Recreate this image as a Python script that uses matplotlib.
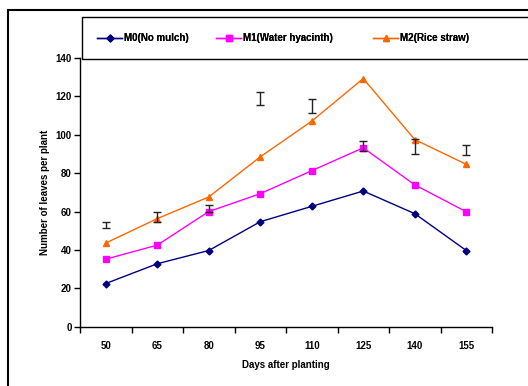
import numpy as np
import matplotlib.pyplot as plt
from matplotlib.patches import Rectangle

plt.rcParams['font.family'] = ['Liberation Sans', 'DejaVu Sans']
plt.rcParams['font.weight'] = 'bold'

days = ["50", "65", "80", "95", "110", "125", "140", "155"]
m0 = [22.5, 32.8, 39.7, 54.7, 62.7, 70.7, 58.9, 39.7]
m1 = [35.2, 42.5, 60.0, 69.3, 81.3, 93.2, 73.9, 59.9]
m2 = [43.6, 56.3, 67.6, 88.5, 107.1, 129.3, 97.5, 84.6]
err_center = [52.9, 57.2, 61.7, 118.8, 115.1, 94.2, 94.0, 92.1]
err_half = [1.4, 2.7, 1.9, 3.5, 3.7, 2.8, 3.8, 2.8]

fig = plt.figure(figsize=(5.28, 3.86), dpi=100)
ax = fig.add_axes([80/528, 1-326.7/386, 412/528, (326.7-58)/386])

x = np.arange(len(days))
l0, = ax.plot(x, m0, color="#000080", marker="D", ms=3.5, lw=1, label="M0(No mulch)")
l1, = ax.plot(x, m1, color="#FF00FF", marker="s", ms=4, lw=1, label="M1(Water hyacinth)")
l2, = ax.plot(x, m2, color="#FF6600", marker="^", ms=5, lw=1, label="M2(Rice straw)")
ax.errorbar(x, err_center, yerr=err_half, fmt="none", ecolor="#222222",
            elinewidth=1, capsize=3, capthick=1)

ax.set_xlim(-0.5, 7.5)
ax.set_ylim(0, 140)
ax.set_yticks(np.arange(0, 141, 20))
ax.set_xticks(x)
ax.set_xticklabels(days)
ax.set_xticks(np.arange(-0.5, 7.6, 1), minor=True)
ax.tick_params(axis="x", which="major", length=0, pad=10, labelsize=7)
ax.tick_params(axis="x", which="minor", length=4, width=1, direction="out")
ax.tick_params(axis="y", length=4, width=1, direction="out", labelsize=7, pad=2)
for s in ["top", "right"]:
    ax.spines[s].set_visible(False)
for s in ["left", "bottom"]:
    ax.spines[s].set_linewidth(1)
ax.set_xlabel("Days after planting", fontsize=7, fontweight="bold", labelpad=7)
ax.set_ylabel("Number of leaves per plant", fontsize=7, fontweight="bold", labelpad=4)

# outer chart frame and legend box (both run past the right edge)
fig.patches.append(Rectangle((8/528, -0.1), 1.2, 1.1 - 10/386,
                             transform=fig.transFigure, fill=False,
                             edgecolor="black", lw=1.5))
fig.patches.append(Rectangle((82/528, 1-59/386), 1.0, 42/386,
                             transform=fig.transFigure, fill=False,
                             edgecolor="black", lw=1))
for line, xpix in [(l0, 92), (l1, 211), (l2, 368)]:
    leg = fig.legend(handles=[line], loc="center left", frameon=False,
                     bbox_to_anchor=(xpix/528, 1-38/386), fontsize=7,
                     borderpad=0, handlelength=2.6, handletextpad=0.2)
    fig.add_artist(leg)

fig.savefig("out.png", dpi=100)
